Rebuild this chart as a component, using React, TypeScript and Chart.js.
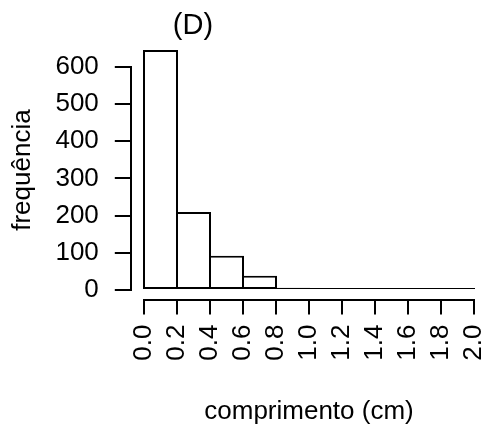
import { useEffect, useRef } from 'react';
import { Chart, registerables } from 'chart.js';

Chart.register(...registerables);

const binCenters = [0.1, 0.3, 0.5, 0.7, 0.9, 1.1, 1.3, 1.5, 1.7, 1.9];
const counts = [645, 210, 92, 38, 6, 1, 1, 1, 1, 1];
const xTicks = [0, 0.2, 0.4, 0.6, 0.8, 1.0, 1.2, 1.4, 1.6, 1.8, 2.0];
const yTicks = [0, 100, 200, 300, 400, 500, 600];
const titleText = '(D)';
const xTitle = 'comprimento (cm)';
const yTitle = 'frequência';

const FONT = "'Liberation Sans', Arial, Helvetica, sans-serif";

export default function App() {
  const ref = useRef<HTMLCanvasElement>(null);

  useEffect(() => {
    document.body.style.margin = '0';
    const canvas = ref.current;
    if (!canvas) return;

    const rAxes = {
      id: 'rAxes',
      afterDraw(chart: any) {
        const { ctx, chartArea, scales } = chart;
        const xs = scales.x;
        const ys = scales.y;
        ctx.save();
        ctx.strokeStyle = '#000';
        ctx.lineWidth = 2;
        ctx.lineCap = 'square';
        ctx.beginPath();
        const yl = Math.round(chartArea.left);
        ctx.moveTo(yl, Math.round(ys.getPixelForValue(yTicks[0])));
        ctx.lineTo(yl, Math.round(ys.getPixelForValue(yTicks[yTicks.length - 1])));
        const xb = Math.round(chartArea.bottom);
        ctx.moveTo(Math.round(xs.getPixelForValue(xTicks[0])), xb);
        ctx.lineTo(Math.round(xs.getPixelForValue(xTicks[xTicks.length - 1])), xb);
        ctx.stroke();
        ctx.fillStyle = '#000';
        ctx.font = `29px ${FONT}`;
        ctx.textAlign = 'center';
        ctx.textBaseline = 'middle';
        ctx.fillText(titleText, 193, 26);
        ctx.restore();
      },
    };

    const chart = new Chart(canvas, {
      type: 'bar',
      data: {
        datasets: [
          {
            data: binCenters.map((x, i) => ({ x, y: counts[i] })),
            backgroundColor: '#ffffff',
            borderColor: '#000000',
            borderWidth: 2,
            borderSkipped: false,
            barPercentage: 35 / 33,
            categoryPercentage: 1,
            minBarLength: 2,
          },
        ],
      },
      options: {
        animation: false,
        responsive: false,
        events: [],
        layout: { padding: { top: 40.5, right: 0.8, left: 0, bottom: 0 } },
        plugins: {
          legend: { display: false },
          tooltip: { enabled: false },
          title: { display: false },
        },
        scales: {
          x: {
            type: 'linear',
            offset: false,
            min: -0.08,
            max: 2.08,
            afterBuildTicks: (scale: any) => {
              scale.ticks = xTicks.map((v) => ({ value: v }));
            },
            afterFit: (scale: any) => {
              scale.height = 429 - 299.6;
              scale.paddingLeft = 0;
              scale.paddingRight = 0;
            },
            border: { display: false },
            grid: {
              display: true,
              offset: false,
              drawOnChartArea: false,
              drawTicks: true,
              tickLength: 15,
              color: '#000',
              lineWidth: 2,
            },
            ticks: {
              autoSkip: false,
              minRotation: 90,
              maxRotation: 90,
              padding: 10,
              color: '#000',
              font: { family: FONT, size: 26 },
              callback: (v: any) => Number(v).toFixed(1),
            },
            title: {
              display: true,
              text: xTitle,
              color: '#000',
              font: { family: FONT, size: 26 },
              padding: { top: 0, bottom: 2 },
            },
          },
          y: {
            type: 'linear',
            min: -25.8,
            max: 670.8,
            afterBuildTicks: (scale: any) => {
              scale.ticks = yTicks.map((v) => ({ value: v }));
            },
            afterFit: (scale: any) => {
              scale.width = 130.8;
              scale.paddingTop = 0;
              scale.paddingBottom = 0;
            },
            border: { display: false },
            grid: {
              display: true,
              drawOnChartArea: false,
              drawTicks: true,
              tickLength: 16,
              color: '#000',
              lineWidth: 2,
            },
            ticks: {
              padding: 16,
              color: '#000',
              font: { family: FONT, size: 26 },
              callback: (v: any) => String(v),
            },
            title: {
              display: true,
              text: yTitle,
              color: '#000',
              font: { family: FONT, size: 26 },
              padding: { top: 7, bottom: 0 },
            },
          },
        },
      },
      plugins: [rAxes],
    });

    return () => chart.destroy();
  }, []);

  return (
    <canvas
      ref={ref}
      width={488}
      height={429}
      style={{ display: 'block', width: 488, height: 429, background: '#fff' }}
    />
  );
}
